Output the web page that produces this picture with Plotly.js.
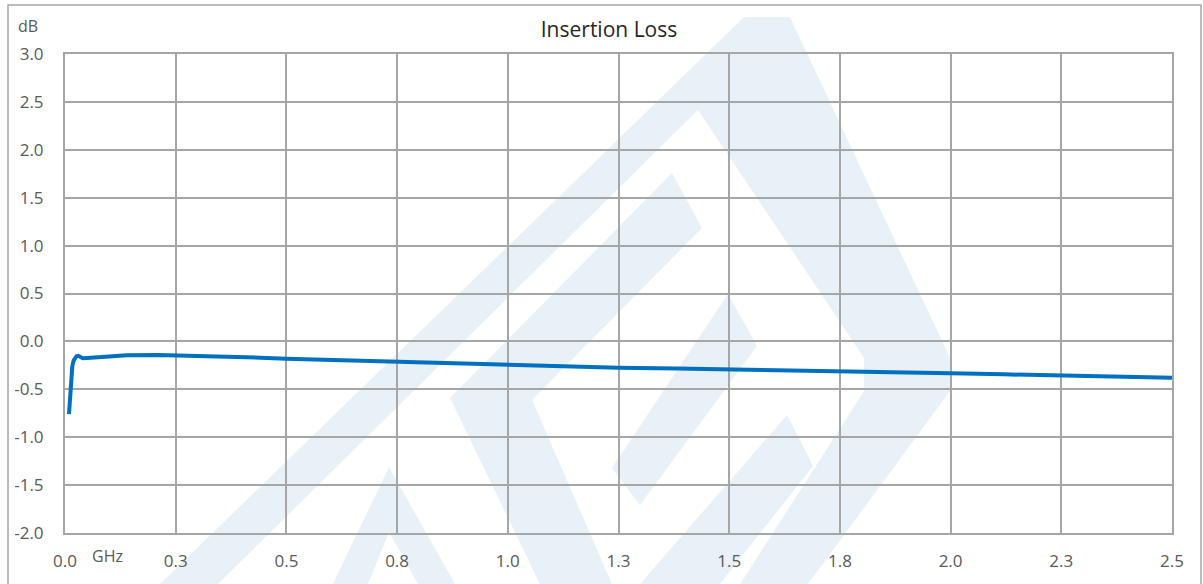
<!DOCTYPE html>
<html>
<head>
<meta charset="utf-8">
<script src="https://cdn.plot.ly/plotly-3.0.1.min.js"></script>
<style>
  html, body { margin: 0; padding: 0; background: #ffffff; }
  #chart { width: 1203px; height: 584px; }
</style>
</head>
<body>
<div id="chart"></div>
<script>
// ---- data ----
const freqGHz = [0.009, 0.0113, 0.0136, 0.0165, 0.0195, 0.0226, 0.026, 0.030, 0.0345, 0.040, 0.050, 0.064, 0.08, 0.10, 0.14, 0.21, 0.25, 0.33, 0.41, 0.50, 0.62, 0.75, 0.87, 1.00, 1.12, 1.25, 1.38, 1.50, 1.66, 1.75, 1.88, 2.00, 2.12, 2.25, 2.38, 2.50];
const lossDB  = [-0.76, -0.58, -0.40, -0.26, -0.20, -0.17, -0.155, -0.15, -0.165, -0.175, -0.172, -0.168, -0.16, -0.152, -0.145, -0.142, -0.145, -0.155, -0.166, -0.18, -0.195, -0.21, -0.233, -0.25, -0.262, -0.274, -0.282, -0.29, -0.306, -0.316, -0.325, -0.333, -0.344, -0.357, -0.368, -0.379];
const xTickVals = [0, 0.25, 0.5, 0.75, 1.0, 1.25, 1.5, 1.75, 2.0, 2.25, 2.5];
const xTickText = ["0.0", "0.3", "0.5", "0.8", "1.0", "1.3", "1.5", "1.8", "2.0", "2.3", "2.5"];
const yTickVals = [-2, -1.5, -1, -0.5, 0, 0.5, 1, 1.5, 2, 2.5, 3];
const yTickText = ["-2.0", "-1.5", "-1.0", "-0.5", "0.0", "0.5", "1.0", "1.5", "2.0", "2.5", "3.0"];
const chartTitle = "Insertion Loss";
const yUnit = "dB";
const xUnit = "GHz";

// ---- decoration (watermark + outer frame), pixel geometry -> paper coords ----
const W = 1203, H = 584, ML = 65, MR = 31, MT = 54, MB = 51;
const PW = W - ML - MR, PH = H - MT - MB;
function px(x) { return (x - ML) / PW; }
function py(y) { return (H - MB - y) / PH; }
function polyPath(pts) {
  return 'M' + pts.map(p => px(p[0]).toFixed(4) + ',' + py(p[1]).toFixed(4)).join(' L') + ' Z';
}
const watermark = [
  [[160,584],[744,17],[790,17],[950,358],[950,391],[808,584],[740,584],[864,391],[864,358],[698,110],[218,584]],
  [[450,398],[672,173],[702,228],[532,400],[612,584],[540,584]],
  [[728,294],[757,346],[640,505],[612,468]],
  [[640,584],[787,415],[813,466],[720,584]],
  [[333,584],[389,467],[455,584],[418,584],[389,532],[368,584]]
];
const shapes = watermark.map(pts => ({
  type: 'path', xref: 'paper', yref: 'paper', layer: 'below',
  path: polyPath(pts), fillcolor: '#e8f0f8', line: { width: 0 }
}));
shapes.push({
  type: 'rect', xref: 'paper', yref: 'paper', layer: 'above',
  x0: px(8), x1: px(1201), y0: py(5), y1: py(600),
  line: { color: '#a6a6a6', width: 1.5 }, fillcolor: 'rgba(0,0,0,0)'
});

const trace = {
  x: freqGHz, y: lossDB, type: 'scatter', mode: 'lines',
  line: { color: '#0070c0', width: 4 },
  hoverinfo: 'x+y', showlegend: false
};

const tickFont = { family: 'Open Sans, Noto Sans, sans-serif', size: 17, color: '#595959' };

const layout = {
  width: W, height: H,
  margin: { l: ML, r: MR, t: MT, b: MB, pad: 0 },
  paper_bgcolor: '#ffffff', plot_bgcolor: 'rgba(0,0,0,0)',
  title: {
    text: chartTitle, x: 609 / W, xanchor: 'center', xref: 'container',
    y: 1 - 30 / H, yanchor: 'middle', yref: 'container',
    font: { family: 'Open Sans, Noto Sans, sans-serif', size: 21, color: '#262626' }
  },
  xaxis: {
    range: [0, 2.5], tickmode: 'array', tickvals: xTickVals, ticktext: xTickText,
    showgrid: true, gridcolor: '#a6a6a6', gridwidth: 2,
    showline: true, linecolor: '#a6a6a6', linewidth: 2, mirror: true,
    zeroline: false, ticks: '', tickfont: tickFont, ticklabelstandoff: 12,
    fixedrange: true
  },
  yaxis: {
    range: [-2, 3], tickmode: 'array', tickvals: yTickVals, ticktext: yTickText,
    showgrid: true, gridcolor: '#a6a6a6', gridwidth: 2,
    showline: true, linecolor: '#a6a6a6', linewidth: 2, mirror: true,
    zeroline: false, ticks: '', tickfont: tickFont, ticklabelstandoff: 16,
    fixedrange: true
  },
  shapes: shapes,
  annotations: [
    { text: yUnit, xref: 'paper', yref: 'paper', x: px(28), y: py(26), xanchor: 'center', yanchor: 'middle',
      showarrow: false, font: { family: 'Open Sans, Noto Sans, sans-serif', size: 16, color: '#595959' } },
    { text: xUnit, xref: 'paper', yref: 'paper', x: px(107), y: py(556), xanchor: 'center', yanchor: 'middle',
      showarrow: false, font: { family: 'Open Sans, Noto Sans, sans-serif', size: 16, color: '#595959' } }
  ]
};

Plotly.newPlot('chart', [trace], layout, { displayModeBar: false, staticPlot: true });
</script>
</body>
</html>
